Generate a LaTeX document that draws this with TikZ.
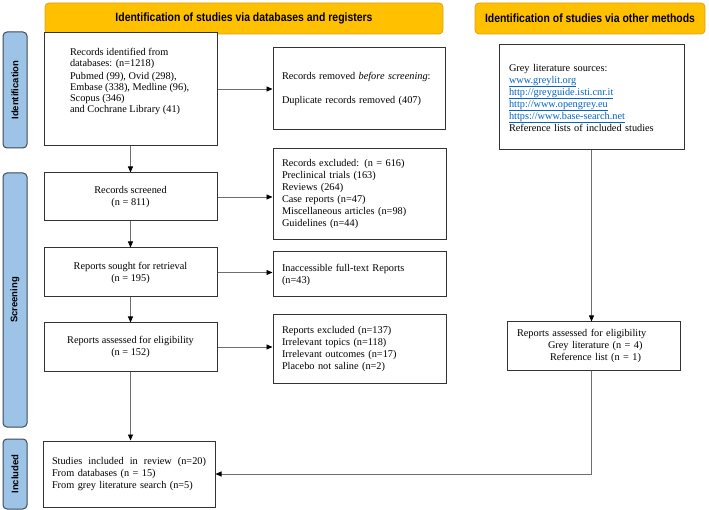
\documentclass[tikz,border=0pt]{standalone}
\usepackage{fontspec}
\setmainfont{Liberation Serif}
\newfontfamily\hdrfont[FakeStretch=0.87]{Liberation Sans}
\newfontfamily\labfont{Liberation Sans}
\usetikzlibrary{arrows.meta,calc}
\definecolor{hdrfill}{HTML}{FFC000}
\definecolor{hdrdraw}{HTML}{D9A21B}
\definecolor{labfill}{HTML}{9DC3E6}
\definecolor{labdraw}{HTML}{3F4A57}
\definecolor{linkblue}{HTML}{0563C1}
\definecolor{conn}{HTML}{6E6E6E}
\newcommand{\lnk}[1]{\textcolor{linkblue}{\underline{#1}}}
\begin{document}
\begin{tikzpicture}[x=1pt,y=-1pt,
 hdr/.style={draw=hdrdraw, fill=hdrfill, rounded corners=4pt, line width=0.8pt, font=\hdrfont\bfseries\fontsize{12}{14}\selectfont, inner sep=0pt},
 lab/.style={draw=labdraw, fill=labfill, rounded corners=4pt, line width=1pt, font=\labfont\bfseries\fontsize{9.5}{11}\selectfont, inner sep=0pt, rotate=90},
 box/.style={draw=black!80, line width=1pt, fill=white, font=\fontsize{10.3}{12}\selectfont, inner ysep=2pt},
 lbox/.style={box, align=left},
 cbox/.style={box, align=center, minimum width=173},
 arr/.style={draw=conn, line width=0.8pt, -{Triangle[length=6pt,width=5pt,color=black]}},
]
\useasboundingbox (0,0) rectangle (709,510);

% headers
\node[hdr, minimum width=398, minimum height=31] (h1) at (244,18.5) {Identification of studies via databases and registers};
\node[hdr, minimum width=230, minimum height=31] (h2) at (590,18.5) {Identification of studies via other methods};

% side labels
\node[lab, minimum width=116, minimum height=24] (l1) at (15,90) {Identification};
\node[lab, minimum width=254, minimum height=24] (l2) at (15,300) {Screening};
\node[lab, minimum width=70, minimum height=24] (l3) at (15,474) {Included};

% left column
\node[box, minimum width=173, minimum height=113, inner xsep=0pt] (b1) at (130.5,89.5)
 {\parbox[c][83pt][t]{121pt}{\fontsize{10.3}{11}\selectfont\raggedright
  Records identified from\\
  databases: (n=1218)\\[2pt]
  Pubmed (99), Ovid (298),\\
  Embase (338), Medline (96),\\
  Scopus (346)\\
  and Cochrane Library (41)}};
\node[cbox, minimum height=48] (scr) at (130.5,197) {Records screened\\(n = 811)};
\node[cbox, minimum height=49] (ret) at (130.5,272.5) {Reports sought for retrieval\\(n = 195)};
\node[cbox, minimum height=48] (elig) at (130.5,347) {Reports assessed for eligibility\\(n = 152)};
\node[lbox, minimum width=172, minimum height=66, text width=154pt, inner xsep=9pt] (inc) at (129,474)
 {\hbox to 154pt{Studies\hfill included\hfill in\hfill review\hfill (n=20)}\\From databases (n = 15)\\From grey literature search (n=5)};

% middle column
\node[lbox, minimum width=172, minimum height=82, text width=154pt, inner xsep=9pt] (rem) at (359,89)
 {Records removed \textit{before screening}:\\[12pt]Duplicate records removed (407)};
\node[lbox, minimum width=173, minimum height=91, text width=155pt, inner xsep=9pt] (exc1) at (359.5,194.5)
 {Records excluded: (n = 616)\\Preclinical trials (163)\\Reviews (264)\\Case reports (n=47)\\Miscellaneous articles (n=98)\\Guidelines (n=44)};
\node[lbox, minimum width=173, minimum height=45, text width=155pt, inner xsep=9pt] (inacc) at (359.5,274.5)
 {Inaccessible full-text Reports\\(n=43)};
\node[lbox, minimum width=173, minimum height=68, text width=155pt, inner xsep=9pt] (exc2) at (359.5,349)
 {Reports excluded (n=137)\\Irrelevant topics (n=118)\\Irrelevant outcomes (n=17)\\Placebo not saline (n=2)};

% right column
\node[lbox, minimum width=185, minimum height=105, text width=165pt, inner xsep=10pt] (grey) at (591.5,97.5)
 {Grey literature sources:\\\lnk{www.greylit.org}\\\lnk{http://greyguide.isti.cnr.it}\\\lnk{http://www.opengrey.eu}\\\lnk{https://www.base-search.net}\\Reference lists of included studies};
\node[lbox, minimum width=173, minimum height=48, text width=153pt, inner xsep=10pt] (greyel) at (593.5,346)
 {Reports assessed for eligibility\\\hspace*{31pt}Grey literature (n = 4)\\\hspace*{33pt}Reference list (n = 1)};

% connectors
\draw[arr] (b1.east |- rem.west) -- (rem.west);
\draw[arr] (b1.south) -- (scr.north);
\draw[arr] (scr.east) -- (scr.east -| exc1.west);
\draw[arr] (scr.south) -- (ret.north);
\draw[arr] (ret.east) -- (ret.east -| inacc.west);
\draw[arr] (ret.south) -- (elig.north);
\draw[arr] (elig.east) -- (elig.east -| exc2.west);
\draw[arr] (elig.south) -- (elig.south |- inc.north);
\draw[arr] (grey.south) -- (grey.south |- greyel.north);
\coordinate (turn) at (grey.south |- inc.east);
\draw[arr] (greyel.south -| grey.south) -- (turn) -- (inc.east);
\end{tikzpicture}
\end{document}
